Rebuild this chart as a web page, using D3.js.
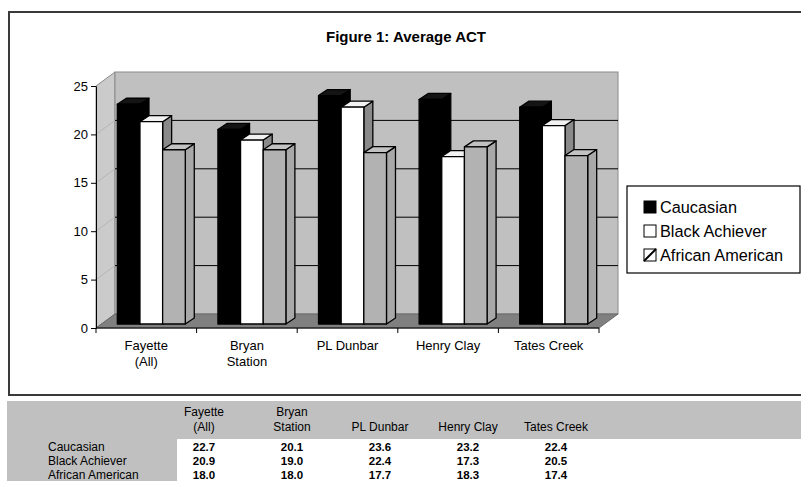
<!DOCTYPE html>
<html>
<head>
<meta charset="utf-8">
<script src="https://cdn.jsdelivr.net/npm/d3@7"></script>
<style>
  html, body { margin: 0; padding: 0; background: #fff; }
  svg { display: block; font-family: "Liberation Sans", Arial, sans-serif; }
</style>
</head>
<body>
<svg id="chart" width="801" height="481"></svg>
<script>
// ---- data ----
const categories = ["Fayette\n(All)", "Bryan\nStation", "PL Dunbar", "Henry Clay", "Tates Creek"];
const seriesNames = ["Caucasian", "Black Achiever", "African American"];
const caucasian = [22.7, 20.1, 23.6, 23.2, 22.4];
const blackAchiever = [20.9, 19.0, 22.4, 17.3, 20.5];
const africanAmerican = [18.0, 18.0, 17.7, 18.3, 17.4];
const yTicks = [0, 5, 10, 15, 20, 25];
const titleText = "Figure 1: Average ACT";

const seriesValues = [caucasian, blackAchiever, africanAmerican];
const seriesStyle = [
  { front: "#000000", top: "#141414", side: "#000000" },
  { front: "#ffffff", top: "#f2f2f2", side: "#8a8a8a" },
  { front: "#b2b2b2", top: "#c2c2c2", side: "#a8a8a8" }
];

const svg = d3.select("#chart");

// ---- frame ----
svg.append("rect").attr("x", 9).attr("y", 12).attr("width", 820).attr("height", 383)
  .attr("fill", "#fff").attr("stroke", "#3a3a3a").attr("stroke-width", 2);

// ---- title ----
svg.append("text").attr("x", 406).attr("y", 42).attr("text-anchor", "middle")
  .attr("font-size", 15).attr("font-weight", "bold").text(titleText);

// ---- scales ----
const x = d3.scaleBand().domain(categories).range([96, 599]);
const inner = d3.scaleBand().domain(seriesNames).range([0, x.bandwidth()]).paddingInner(0).paddingOuter(0.72);
const y = d3.scaleLinear().domain([0, 25]).range([328, 86]);

const wall = { dx: 19, dy: -14 };   // depth of the 3-D box
const face = { dx: 5, dy: -4 };     // position of bar front face
const bdep = { dx: 9, dy: -6 };     // depth of each bar

const x0 = x.range()[0], x1 = x.range()[1];
const yTop = y(25), yBase = y(0);

// left side wall
svg.append("polygon")
  .attr("points", [[x0, yTop], [x0 + wall.dx, yTop + wall.dy], [x0 + wall.dx, yBase + wall.dy], [x0, yBase]].join(" "))
  .attr("fill", "#cbcbcb").attr("stroke", "#8a8a8a").attr("stroke-width", 1);
// back wall
svg.append("rect").attr("x", x0 + wall.dx).attr("y", yTop + wall.dy)
  .attr("width", x1 - x0).attr("height", yBase - yTop)
  .attr("fill", "#c0c0c0").attr("stroke", "#8a8a8a").attr("stroke-width", 1);
// gridlines
yTicks.filter(v => v > 0 && v < 25).forEach(v => {
  svg.append("line").attr("x1", x0).attr("y1", y(v)).attr("x2", x0 + wall.dx).attr("y2", y(v) + wall.dy)
    .attr("stroke", "#b5b5b5").attr("stroke-width", 1);
  svg.append("line").attr("x1", x0 + wall.dx).attr("y1", y(v) + wall.dy).attr("x2", x1 + wall.dx).attr("y2", y(v) + wall.dy)
    .attr("stroke", "#000").attr("stroke-width", 1);
});
// floor
svg.append("polygon")
  .attr("points", [[x0, yBase], [x1, yBase], [x1 + wall.dx, yBase + wall.dy], [x0 + wall.dx, yBase + wall.dy]].join(" "))
  .attr("fill", "#808080").attr("stroke", "#6a6a6a").attr("stroke-width", 1);

// ---- bars ----
const barsG = svg.append("g");
categories.forEach((c, ci) => {
  seriesNames.forEach((s, si) => {
    const v = seriesValues[si][ci];
    const bx = x(c) + inner(s) + face.dx;
    const bw = inner.bandwidth();
    const by = y(v) + face.dy;
    const bb = yBase + face.dy;
    const st = seriesStyle[si];
    const g = barsG.append("g").attr("stroke", "#000").attr("stroke-width", 1.3).attr("stroke-linejoin", "round");
    g.append("polygon").attr("fill", st.side)
      .attr("points", [[bx + bw, by], [bx + bw + bdep.dx, by + bdep.dy], [bx + bw + bdep.dx, bb + bdep.dy], [bx + bw, bb]].join(" "));
    g.append("polygon").attr("fill", st.top)
      .attr("points", [[bx, by], [bx + bdep.dx, by + bdep.dy], [bx + bw + bdep.dx, by + bdep.dy], [bx + bw, by]].join(" "));
    g.append("rect").attr("x", bx).attr("y", by).attr("width", bw).attr("height", bb - by).attr("fill", st.front);
  });
});

// ---- axes ----
const yAxis = svg.append("g").attr("transform", `translate(${x0},0)`)
  .call(d3.axisLeft(y).tickValues(yTicks).tickSize(5).tickSizeOuter(0).tickPadding(3));
yAxis.selectAll("text").attr("font-size", 13).attr("font-family", "Liberation Sans, Arial, sans-serif").attr("fill", "#000");
yAxis.selectAll("line, path").attr("stroke", "#000");

const xAxis = svg.append("g");
xAxis.append("line").attr("x1", x0).attr("x2", x1).attr("y1", yBase).attr("y2", yBase).attr("stroke", "#000");
categories.map(c => x(c)).concat([x1]).forEach(px => {
  xAxis.append("line").attr("x1", px).attr("x2", px).attr("y1", yBase).attr("y2", yBase + 5).attr("stroke", "#000");
});
categories.forEach(c => {
  const t = xAxis.append("text").attr("x", x(c) + x.bandwidth() / 2).attr("y", 349.5)
    .attr("text-anchor", "middle").attr("font-size", 13);
  c.split("\n").forEach((line, i) => {
    t.append("tspan").attr("x", x(c) + x.bandwidth() / 2).attr("dy", i === 0 ? 0 : 16.5).text(line);
  });
});

// ---- legend ----
const lg = svg.append("g");
lg.append("rect").attr("x", 627).attr("y", 186).attr("width", 173).attr("height", 87)
  .attr("fill", "#fff").attr("stroke", "#000").attr("stroke-width", 1.2);
seriesNames.forEach((s, i) => {
  const cy = 207 + i * 24;
  lg.append("rect").attr("x", 644).attr("y", cy - 6).attr("width", 12).attr("height", 12)
    .attr("stroke", "#000").attr("stroke-width", 1)
    .attr("fill", i === 0 ? "#000" : "#fff");
  if (i === 2) {
    lg.append("line").attr("x1", 644).attr("y1", cy + 6).attr("x2", 656).attr("y2", cy - 6)
      .attr("stroke", "#000").attr("stroke-width", 2);
  }
  lg.append("text").attr("x", 660).attr("y", cy + 6).attr("font-size", 16.3).text(s);
});

// ---- data table ----
const tb = svg.append("g");
tb.append("rect").attr("x", 7).attr("y", 401).attr("width", 794).attr("height", 38).attr("fill", "#c0c0c0");
tb.append("rect").attr("x", 7).attr("y", 439).attr("width", 170).attr("height", 42).attr("fill", "#c0c0c0");
const tx = d3.scaleBand().domain(categories).range([160, 600]);
categories.forEach(c => {
  const cx = tx(c) + tx.bandwidth() / 2;
  const lines = c.split("\n");
  lines.forEach((line, i) => {
    const yy = lines.length === 2 ? 416 + i * 15 : 431;
    tb.append("text").attr("x", cx).attr("y", yy).attr("text-anchor", "middle").attr("font-size", 12).text(line);
  });
});
seriesNames.forEach((s, si) => {
  const yy = 450.5 + si * 14;
  tb.append("text").attr("x", 48).attr("y", yy).attr("font-size", 12).text(s);
  categories.forEach((c, ci) => {
    tb.append("text").attr("x", tx(c) + tx.bandwidth() / 2).attr("y", yy).attr("text-anchor", "middle")
      .attr("font-size", 11.5).attr("font-weight", "bold").text(seriesValues[si][ci].toFixed(1));
  });
});
</script>
</body>
</html>
